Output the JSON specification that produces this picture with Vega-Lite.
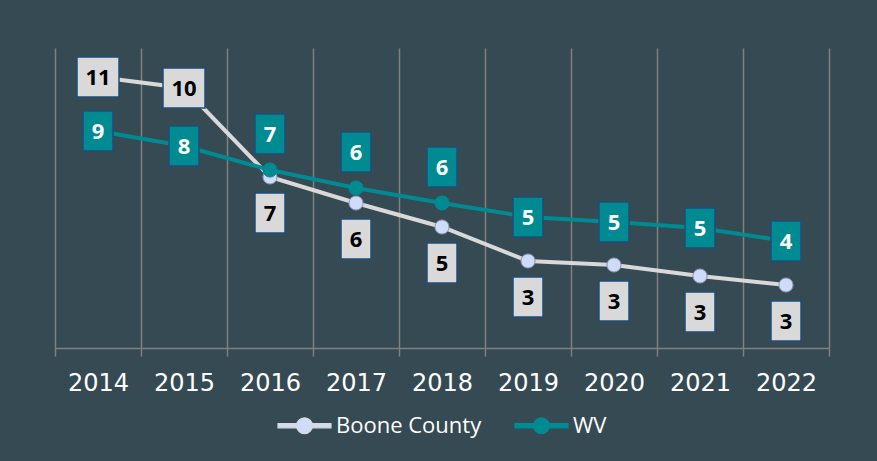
{
  "$schema": "https://vega.github.io/schema/vega-lite/v6.json",
  "width": 774,
  "height": 300,
  "autosize": "none",
  "padding": {"left": 55, "top": 48, "right": 48, "bottom": 113},
  "background": "#354a52",
  "config": {
    "view": {"stroke": null},
    "font": "Open Sans",
    "axis": {
      "title": null,
      "labelAngle": 0,
      "labelColor": "#ffffff",
      "labelFont": "DejaVu Sans",
      "labelFontSize": 24,
      "labelPadding": 15,
      "domainColor": "#808080",
      "domainWidth": 1.5,
      "tickColor": "#808080",
      "tickWidth": 1.5,
      "tickSize": 8,
      "grid": true,
      "gridColor": "#808080",
      "gridWidth": 1.5
    },
    "legend": {
      "orient": "none",
      "direction": "horizontal",
      "legendX": 222,
      "legendY": 350,
      "title": null,
      "labelColor": "#ffffff",
      "labelFont": "Open Sans",
      "labelFontSize": 22,
      "labelOffset": 4,
      "columnPadding": 30,
      "padding": 0,
      "symbolType": "M-1,-0.08H-0.3V0.08H-1Z M0.3,-0.08H1V0.08H0.3Z M0.3,0A0.3,0.3 0 1 1 -0.3,0A0.3,0.3 0 1 1 0.3,0Z",
      "symbolSize": 2809,
      "symbolStrokeWidth": 1.2,
      "symbolOpacity": 1
    }
  },
  "datasets": {
    "d": [
      {"year": 2014, "series": "Boone County", "value": 10.84, "label": "11"},
      {"year": 2015, "series": "Boone County", "value": 10.4, "label": "10"},
      {"year": 2016, "series": "Boone County", "value": 6.84, "label": "7"},
      {"year": 2017, "series": "Boone County", "value": 5.8, "label": "6"},
      {"year": 2018, "series": "Boone County", "value": 4.84, "label": "5"},
      {"year": 2019, "series": "Boone County", "value": 3.48, "label": "3"},
      {"year": 2020, "series": "Boone County", "value": 3.32, "label": "3"},
      {"year": 2021, "series": "Boone County", "value": 2.88, "label": "3"},
      {"year": 2022, "series": "Boone County", "value": 2.52, "label": "3"},
      {"year": 2014, "series": "WV", "value": 8.68, "label": "9"},
      {"year": 2015, "series": "WV", "value": 8.08, "label": "8"},
      {"year": 2016, "series": "WV", "value": 7.12, "label": "7"},
      {"year": 2017, "series": "WV", "value": 6.4, "label": "6"},
      {"year": 2018, "series": "WV", "value": 5.8, "label": "6"},
      {"year": 2019, "series": "WV", "value": 5.24, "label": "5"},
      {"year": 2020, "series": "WV", "value": 5.04, "label": "5"},
      {"year": 2021, "series": "WV", "value": 4.8, "label": "5"},
      {"year": 2022, "series": "WV", "value": 4.28, "label": "4"}
    ]
  },
  "data": {"name": "d"},
  "encoding": {
    "x": {
      "field": "year",
      "type": "ordinal",
      "scale": {"type": "band", "paddingInner": 0, "paddingOuter": 0},
      "axis": {"tickBand": "extent"}
    },
    "y": {
      "field": "value",
      "type": "quantitative",
      "scale": {"domain": [0, 12], "nice": false},
      "axis": null
    }
  },
  "layer": [
    {
      "mark": {"type": "line", "strokeWidth": 4},
      "encoding": {
        "stroke": {
          "field": "series",
          "type": "nominal",
          "scale": {"domain": ["Boone County", "WV"], "range": ["#d9d9d9", "#008a92"]}
        }
      }
    },
    {
      "mark": {"type": "point", "filled": true, "opacity": 1, "size": 200, "strokeWidth": 1},
      "encoding": {
        "fill": {
          "field": "series",
          "type": "nominal",
          "scale": {"domain": ["Boone County", "WV"], "range": ["#cfdcf8", "#008a92"]}
        },
        "stroke": {
          "condition": {"test": "datum.series === 'Boone County'", "value": "#8d90b2"},
          "value": "#008a92"
        }
      }
    },
    {
      "transform": [{"filter": "datum.series === 'Boone County' && datum.year <= 2015"}],
      "mark": {"type": "point", "shape": "M-1.05,-1H1.05V1H-1.05Z", "size": 1600, "filled": true, "opacity": 1, "fill": "#d9d9d9", "stroke": "#1f4e79", "strokeWidth": 1.5}
    },
    {
      "transform": [{"filter": "datum.series === 'Boone County' && datum.year <= 2015"}],
      "mark": {"type": "text", "font": "Open Sans", "fontWeight": "bold", "fontSize": 22, "color": "#000000", "baseline": "middle", "dy": 1},
      "encoding": {"text": {"field": "label"}}
    },
    {
      "transform": [{"filter": "datum.series === 'Boone County' && datum.year >= 2016"}],
      "mark": {"type": "point", "shape": "M-0.75,-1H0.75V1H-0.75Z", "size": 1600, "filled": true, "opacity": 1, "fill": "#d9d9d9", "stroke": "#1f4e79", "strokeWidth": 1.5, "yOffset": 36}
    },
    {
      "transform": [{"filter": "datum.series === 'Boone County' && datum.year >= 2016"}],
      "mark": {"type": "text", "font": "Open Sans", "fontWeight": "bold", "fontSize": 22, "color": "#000000", "baseline": "middle", "yOffset": 36, "dy": 1},
      "encoding": {"text": {"field": "label"}}
    },
    {
      "transform": [{"filter": "datum.series === 'WV' && datum.year >= 2016 && datum.year <= 2018"}],
      "mark": {"type": "point", "shape": "M-0.75,-1H0.75V1H-0.75Z", "size": 1600, "filled": true, "opacity": 1, "fill": "#008a92", "stroke": "#1f4e79", "strokeWidth": 1.5, "yOffset": -36}
    },
    {
      "transform": [{"filter": "datum.series === 'WV' && datum.year >= 2016 && datum.year <= 2018"}],
      "mark": {"type": "text", "font": "Open Sans", "fontWeight": "bold", "fontSize": 22, "color": "#ffffff", "baseline": "middle", "yOffset": -36, "dy": 1},
      "encoding": {"text": {"field": "label"}}
    },
    {
      "transform": [{"filter": "datum.series === 'WV' && (datum.year <= 2015 || datum.year >= 2019)"}],
      "mark": {"type": "point", "shape": "M-0.75,-1H0.75V1H-0.75Z", "size": 1600, "filled": true, "opacity": 1, "fill": "#008a92", "stroke": "#1f4e79", "strokeWidth": 1.5}
    },
    {
      "transform": [{"filter": "datum.series === 'WV' && (datum.year <= 2015 || datum.year >= 2019)"}],
      "mark": {"type": "text", "font": "Open Sans", "fontWeight": "bold", "fontSize": 22, "color": "#ffffff", "baseline": "middle", "dy": 1},
      "encoding": {"text": {"field": "label"}}
    }
  ]
}
